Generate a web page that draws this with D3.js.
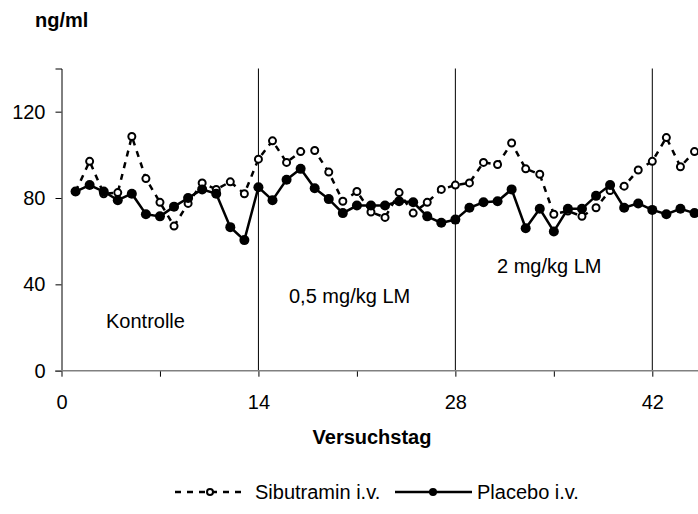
<!DOCTYPE html>
<html>
<head>
<meta charset="utf-8">
<script src="https://cdn.jsdelivr.net/npm/d3@7"></script>
<style>
  body { margin: 0; background: #fff; }
  text { font-family: "Liberation Sans", Arial, sans-serif; }
</style>
</head>
<body>
<script>
// Versuchstage (x values)
const days = [1, 2, 3, 4, 5, 6, 7, 8, 9, 10, 11, 12, 13, 14, 15, 16, 17, 18, 19, 20,
  21, 22, 23, 24, 25, 26, 27, 28, 29, 30, 31, 32, 33, 34, 35, 36, 37, 38, 39, 40,
  41, 42, 43, 44, 45];

// ng/ml
const sibutramin = [83, 97, 82, 82.5, 108.5, 89, 78, 67, 77.5, 87, 84, 87.5, 82, 98, 106.5,
  96.5, 101.5, 102, 92, 78.5, 83, 73.5, 71, 82.5, 73, 78, 84, 86, 87, 96.5,
  95.5, 105.5, 93.5, 91, 72.5, 74, 71.5, 75.5, 83.5, 85.5, 93, 97, 108, 94.5, 101.5];
const placebo = [83, 86, 83, 79, 82, 72.5, 71.5, 76, 80, 84, 82, 66.5, 60.5, 85, 79,
  88.5, 93.5, 84.5, 79.5, 73, 76.5, 76.5, 76.5, 78.5, 78, 71.5, 68.5, 70, 75.5, 78,
  78.5, 84, 66, 75, 64.5, 75, 75, 81, 86, 75.5, 77.5, 74.5, 72.5, 75, 73];

const yTicks = [0, 40, 80, 120];
const xTicks = [0, 7, 14, 21, 28, 35, 42];
const xLabelled = [0, 14, 28, 42];
const phaseLines = [14, 28, 42];
const phases = [
  {label: "Kontrolle", x: 106, y: 328},
  {label: "0,5 mg/kg LM", x: 289, y: 303},
  {label: "2 mg/kg LM", x: 497, y: 273}
];

const W = 698, H = 514;
const svg = d3.select("body").append("svg")
  .attr("width", W).attr("height", H);

const x = d3.scaleLinear().domain([0, 45]).range([61.5, 694.5]);
const y = d3.scaleLinear().domain([0, 140]).range([370.7, 68.5]);

// unit label
svg.append("text")
  .attr("x", 35).attr("y", 27)
  .style("font-size", "20px").style("font-weight", "bold")
  .text("ng/ml");

// phase separators
svg.selectAll(".phase")
  .data(phaseLines)
  .enter().append("line")
    .attr("x1", d => x(d)).attr("x2", d => x(d))
    .attr("y1", y(140)).attr("y2", y(0))
    .attr("stroke", "#000").attr("stroke-width", 1);

// y axis
const yAxis = svg.append("g")
  .attr("transform", "translate(" + x(0) + ",0)")
  .call(d3.axisLeft(y).tickValues(yTicks).tickSize(6).tickPadding(10));
yAxis.select(".domain").attr("stroke", "#000");
yAxis.selectAll(".tick line").attr("stroke", "#000");
yAxis.selectAll("text").style("font-size", "20px").attr("fill", "#000")
  .attr("font-family", null);

// x axis
const xAxis = svg.append("g")
  .attr("transform", "translate(0," + y(0) + ")")
  .call(d3.axisBottom(x).tickValues(xTicks).tickSize(6).tickPadding(18)
    .tickFormat(d => xLabelled.includes(d) ? d : ""));
xAxis.select(".domain").remove();
xAxis.selectAll(".tick line").attr("stroke", "#000");
xAxis.selectAll("text").style("font-size", "20px").attr("fill", "#000")
  .attr("font-family", null);
svg.append("line")
  .attr("x1", x(0) - 6).attr("x2", W)
  .attr("y1", y(0)).attr("y2", y(0))
  .attr("stroke", "#808080").attr("stroke-width", 1.5);

svg.append("text")
  .attr("x", 372).attr("y", 444)
  .attr("text-anchor", "middle")
  .style("font-size", "20px").style("font-weight", "bold")
  .text("Versuchstag");

svg.selectAll(".phaseLabel")
  .data(phases)
  .enter().append("text")
    .attr("x", d => d.x).attr("y", d => d.y)
    .style("font-size", "20px")
    .text(d => d.label);

// series
const line = d3.line().x((d, i) => x(days[i])).y(d => y(d));

svg.append("path")
  .datum(sibutramin)
  .attr("d", line)
  .attr("fill", "none").attr("stroke", "#000")
  .attr("stroke-width", 2.5).attr("stroke-dasharray", "6,6");
svg.selectAll(".sib")
  .data(sibutramin)
  .enter().append("circle")
    .attr("cx", (d, i) => x(days[i])).attr("cy", d => y(d))
    .attr("r", 3.5)
    .attr("fill", "#fff").attr("stroke", "#000").attr("stroke-width", 2);

svg.append("path")
  .datum(placebo)
  .attr("d", line)
  .attr("fill", "none").attr("stroke", "#000")
  .attr("stroke-width", 2.5);
svg.selectAll(".pla")
  .data(placebo)
  .enter().append("circle")
    .attr("cx", (d, i) => x(days[i])).attr("cy", d => y(d))
    .attr("r", 5)
    .attr("fill", "#000");

// legend
const ly = 499;
const legend = svg.append("g");
legend.append("line")
  .attr("x1", 175).attr("x2", 242).attr("y1", ly - 7).attr("y2", ly - 7)
  .attr("stroke", "#000").attr("stroke-width", 2.5).attr("stroke-dasharray", "6,6");
legend.append("circle")
  .attr("cx", 210).attr("cy", ly - 7).attr("r", 3)
  .attr("fill", "#fff").attr("stroke", "#000").attr("stroke-width", 2);
legend.append("text").attr("x", 255).attr("y", ly)
  .style("font-size", "20px").text("Sibutramin i.v.");
legend.append("line")
  .attr("x1", 395).attr("x2", 472).attr("y1", ly - 7).attr("y2", ly - 7)
  .attr("stroke", "#000").attr("stroke-width", 2.5);
legend.append("circle")
  .attr("cx", 433).attr("cy", ly - 7).attr("r", 4)
  .attr("fill", "#000");
legend.append("text").attr("x", 477).attr("y", ly)
  .style("font-size", "20px").text("Placebo i.v.");
</script>
</body>
</html>
